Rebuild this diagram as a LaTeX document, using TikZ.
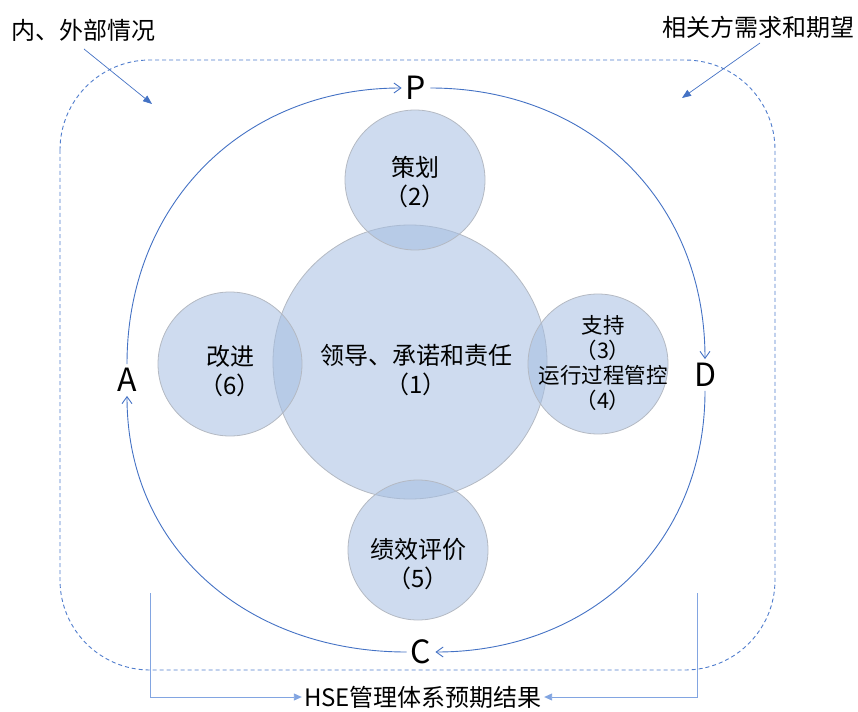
\documentclass[tikz,border=0pt]{standalone}
\usepackage{fontspec}
\setmainfont{Noto Sans CJK SC}
\usetikzlibrary{arrows.meta}
\definecolor{cyc}{RGB}{68,114,196}
\definecolor{dsh}{RGB}{80,125,205}
\definecolor{brk}{RGB}{130,165,225}
\definecolor{cfill}{RGB}{165,190,225}
\definecolor{cline}{RGB}{180,185,195}
\tikzset{
  circ/.style={circle,draw=cline,line width=0.8pt,fill=cfill,fill opacity=0.55},
  lbl/.style={font=\fontsize{24}{29}\selectfont,align=center,text=black},
  pdca/.style={font=\fontsize{32}{36}\selectfont,text=black,inner sep=4pt},
  cycle/.style={draw=cyc,line width=0.9pt,-{Straight Barb[length=7pt,width=10pt]}},
  note/.style={draw=cyc,line width=0.7pt,-{Triangle[length=9pt,width=7pt]}},
  bracket/.style={draw=brk,line width=0.9pt,-{Triangle[length=8pt,width=7pt]}},
  frame/.style={draw=dsh,line width=0.9pt,dash pattern=on 4pt off 3pt,rounded corners=90pt}
}
\begin{document}
\begin{tikzpicture}[x=1pt,y=-1pt]
\useasboundingbox (0,0) rectangle (858,711);
% dashed frame
\draw[frame] (60,60) rectangle (775,670);
% circles
\path[circ] (410,362) circle[radius=137];
\path[circ] (415,180) circle[radius=70];
\path[circ] (418,550) circle[radius=70];
\path[circ] (230,364) circle[radius=72];
\path[circ] (598,364) circle[radius=70];
% labels in circles
\node[lbl] (plan) at (415,182) {策划\\（2）};
\node[lbl] (lead) at (416,370) {领导、承诺和责任\\（1）};
\node[lbl] (impr) at (230,371) {改进\\（6）};
\node[lbl,font=\fontsize{21.5}{25}\selectfont] (supp) at (603,363) {支持\\（3）\\运行过程管控\\（4）};
\node[lbl] (eval) at (418,564) {绩效评价\\（5）};
% PDCA letters
\node[pdca] (P) at (416,88) {P};
\node[pdca] (D) at (705,375) {D};
\node[pdca] (C) at (421,652) {C};
\node[pdca] (A) at (127,380) {A};
% cycle arcs
\draw[cycle] (A.north) to[out=90,in=180,looseness=1.05] (P.west);
\draw[cycle] (P.east) to[out=0,in=90,looseness=1.05] (D.north);
\draw[cycle] (D.south) to[out=-90,in=0,looseness=1.05] (C.east);
\draw[cycle] (C.west) to[out=180,in=-90,looseness=1.05] (A.south);
% annotations
\node[lbl,anchor=west] (inside) at (8,30) {内、外部情况};
\node[lbl,anchor=east] (needs) at (858,27) {相关方需求和期望};
\coordinate (inEnd) at (152,104);
\coordinate (inStart) at (84,49);
\coordinate (ndEnd) at (682,98);
\coordinate (ndStart) at (760,43);
\draw[note] (inStart) -- (inEnd);
\draw[note] (ndStart) -- (ndEnd);
% expected results
\node[lbl,font=\fontsize{24}{26}\selectfont,inner sep=2pt] (hse) at (423,697) {HSE管理体系预期结果};
\coordinate (bl) at (150,593);
\coordinate (br) at (697,593);
\draw[bracket] (bl) |- (hse.west);
\draw[bracket] (br) |- (hse.east);
\end{tikzpicture}
\end{document}
